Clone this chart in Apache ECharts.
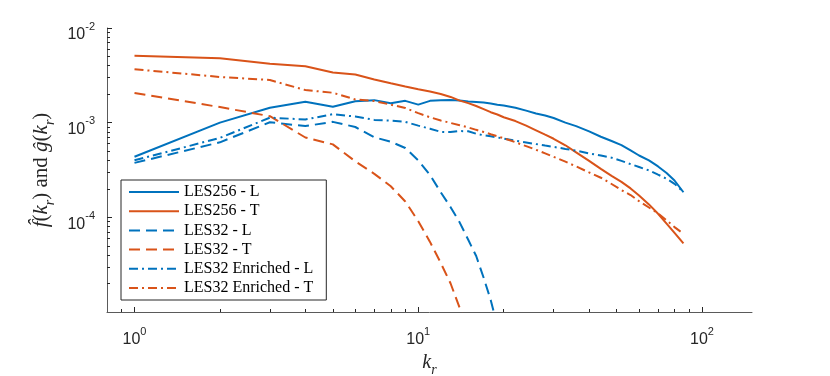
<!DOCTYPE html>
<html>
<head>
<meta charset="utf-8">
<script src="https://cdn.jsdelivr.net/npm/echarts@6/dist/echarts.min.js"></script>
<style>
html, body { margin: 0; padding: 0; background: #fff; }
#main { width: 830px; height: 376px; }
</style>
</head>
<body>
<div id="main"></div>
<script>
// wavenumbers
var kFull = [1,2,3,4,5,6,7,8,9,10,11,12,13,14,15,16,17,18,19,20,22,24,26,28,30,33,36,40,44,48,52,56,60,65,70,75,80,86];
var kLes32L = [1,2,3,4,5,6,7,8,9,10,11,12,13,14,15,16,17,18,19,20];
var kLes32T = [1,2,3,4,5,6,7,8,9,10,11,12,13,14,15];

var les256L = [4.36e-4,1.00e-3,1.44e-3,1.66e-3,1.47e-3,1.68e-3,1.73e-3,1.60e-3,1.70e-3,1.55e-3,1.70e-3,1.73e-3,1.74e-3,1.71e-3,1.67e-3,1.65e-3,1.63e-3,1.59e-3,1.55e-3,1.52e-3,
    1.44e-3,1.34e-3,1.25e-3,1.19e-3,1.12e-3,1.00e-3,9.2e-4,8.1e-4,7.1e-4,6.4e-4,5.8e-4,5.1e-4,4.5e-4,4.0e-4,3.45e-4,2.94e-4,2.45e-4,1.84e-4];
var les256T = [5.08e-3,4.80e-3,4.18e-3,3.95e-3,3.38e-3,3.23e-3,2.86e-3,2.61e-3,2.41e-3,2.25e-3,2.13e-3,2.01e-3,1.87e-3,1.71e-3,1.61e-3,1.50e-3,1.39e-3,1.29e-3,1.22e-3,1.14e-3,
    1.04e-3,9.3e-4,8.3e-4,7.46e-4,6.76e-4,5.77e-4,4.86e-4,3.95e-4,3.25e-4,2.74e-4,2.37e-4,2.02e-4,1.70e-4,1.37e-4,1.09e-4,8.6e-5,6.85e-5,5.3e-5];
var les32L = [3.76e-4,6.2e-4,1.01e-3,9.2e-4,1.02e-3,9.0e-4,7.0e-4,6.3e-4,5.4e-4,4.0e-4,2.8e-4,1.84e-4,1.28e-4,8.8e-5,5.8e-5,3.9e-5,2.3e-5,1.34e-5,7.1e-6,3.8e-6];
var les32T = [2.06e-3,1.46e-3,1.17e-3,6.97e-4,5.9e-4,3.9e-4,2.88e-4,2.13e-4,1.47e-4,9.1e-5,5.5e-5,3.3e-5,2.0e-5,1.1e-5,6.0e-6];
var enrL = [4.0e-4,6.9e-4,1.13e-3,1.08e-3,1.23e-3,1.16e-3,1.07e-3,1.05e-3,1.02e-3,9.3e-4,8.64e-4,8.0e-4,7.95e-4,8.15e-4,8.1e-4,7.64e-4,7.36e-4,7.19e-4,6.98e-4,6.8e-4,
    6.44e-4,6.18e-4,5.94e-4,5.73e-4,5.55e-4,5.28e-4,5.06e-4,4.74e-4,4.49e-4,4.27e-4,3.95e-4,3.65e-4,3.40e-4,3.13e-4,2.82e-4,2.56e-4,2.26e-4,1.85e-4];
var enrT = [3.67e-3,3.04e-3,2.82e-3,2.21e-3,2.07e-3,1.76e-3,1.69e-3,1.55e-3,1.43e-3,1.26e-3,1.14e-3,1.055e-3,9.93e-4,9.4e-4,8.9e-4,8.4e-4,7.97e-4,7.55e-4,7.19e-4,6.85e-4,
    6.21e-4,5.65e-4,5.17e-4,4.74e-4,4.36e-4,3.88e-4,3.45e-4,2.98e-4,2.62e-4,2.25e-4,1.94e-4,1.72e-4,1.48e-4,1.27e-4,1.10e-4,9.31e-5,7.89e-5,6.7e-5];

var names = ['LES256 - L','LES256 - T','LES32 - L','LES32 - T','LES32 Enriched - L','LES32 Enriched - T'];

var xMajor = [1,10,100];
var xMinor = [0.9,2,3,4,5,6,7,8,9,20,30,40,50,60,70,80,90];
var yMajor = [1e-4,1e-3,1e-2];
var yMinor = [2e-5,3e-5,4e-5,5e-5,6e-5,7e-5,8e-5,9e-5,2e-4,3e-4,4e-4,5e-4,6e-4,7e-4,8e-4,9e-4,2e-3,3e-3,4e-3,5e-3,6e-3,7e-3,8e-3,9e-3];

var BLUE = '#0072BD', ORANGE = '#D95319', AX = '#262626';
var DASH = [11, 6], DASHDOT = [9, 4, 2, 4];

function pairs(k, v) {
    var out = [];
    for (var i = 0; i < v.length; i++) out.push([k[i], v[i]]);
    return out;
}

function pow10Label(v) {
    return '{b|10}{s|' + Math.round(Math.log(v) / Math.LN10) + '}';
}

var tickRich = {
    b: {fontSize: 16, fontFamily: 'Liberation Sans', color: AX, lineHeight: 22, verticalAlign: 'bottom'},
    s: {fontSize: 11, fontFamily: 'Liberation Sans', color: AX, lineHeight: 11, verticalAlign: 'top'}
};

function line(name, k, v, color, type) {
    return {
        name: name,
        type: 'line',
        data: pairs(k, v),
        symbol: 'none',
        clip: true,
        lineStyle: {color: color, width: 2, type: type},
        itemStyle: {color: color}
    };
}

var chart = echarts.init(document.getElementById('main'), null, {renderer: 'canvas'});

var option = {
    animation: false,
    backgroundColor: '#fff',
    grid: {left: 107, right: 78, top: 28, bottom: 64, containLabel: false, outerBoundsMode: 'none'},
    legend: {
        data: names,
        orient: 'vertical',
        left: 121,
        top: 180,
        padding: [4, 13, 4, 7],
        itemGap: 3.2,
        itemWidth: 50,
        itemHeight: 14,
        itemStyle: {opacity: 0, borderWidth: 0},
        backgroundColor: '#fff',
        borderColor: AX,
        borderWidth: 1,
        borderRadius: 0,
        textStyle: {fontFamily: 'Liberation Serif', fontSize: 16, color: '#000'}
    },
    xAxis: [{
        type: 'log', logBase: 10, min: 0.8, max: 150,
        position: 'bottom',
        name: '{i|k}{r|r}', nameLocation: 'middle', nameGap: 28,
        nameTextStyle: {
            rich: {
                i: {fontFamily: 'Liberation Serif', fontStyle: 'italic', fontSize: 20, color: AX, lineHeight: 24, verticalAlign: 'top'},
                r: {fontFamily: 'Liberation Serif', fontStyle: 'italic', fontSize: 14, color: AX, lineHeight: 24, verticalAlign: 'bottom'}
            }
        },
        splitLine: {show: false},
        axisLine: {show: true, lineStyle: {color: '#5a5a5a', width: 1}},
        axisTick: {show: true, inside: true, length: 5, customValues: xMajor, lineStyle: {color: AX}},
        axisLabel: {customValues: xMajor, margin: 14, formatter: pow10Label, rich: tickRich}
    }, {
        type: 'log', logBase: 10, min: 0.8, max: 150,
        position: 'bottom',
        splitLine: {show: false},
        axisLine: {show: false},
        axisTick: {show: true, inside: true, length: 3, customValues: xMinor, lineStyle: {color: AX}},
        axisLabel: {show: false}
    }],
    yAxis: [{
        type: 'log', logBase: 10, min: 1e-5, max: 1e-2,
        position: 'left',
        name: '{i|f\u0302}{n|(}{i|k}{r|r}{n|) and }{i|g\u0302}{n|(}{i|k}{r|r}{n|)}',
        nameLocation: 'middle', nameGap: 50, nameRotate: 90, nameMoveOverlap: false,
        nameTextStyle: {
            rich: {
                i: {fontFamily: 'Liberation Serif', fontStyle: 'italic', fontSize: 21, color: AX, lineHeight: 26, verticalAlign: 'top'},
                n: {fontFamily: 'Liberation Serif', fontSize: 21, color: AX, lineHeight: 26, verticalAlign: 'top'},
                r: {fontFamily: 'Liberation Serif', fontStyle: 'italic', fontSize: 14, color: AX, lineHeight: 26, verticalAlign: 'bottom'}
            }
        },
        splitLine: {show: false},
        axisLine: {show: true, lineStyle: {color: '#5a5a5a', width: 1}},
        axisTick: {show: true, inside: true, length: 5, customValues: yMajor, lineStyle: {color: AX}},
        axisLabel: {customValues: yMajor, margin: 12, padding: [8, 0, 0, 0], formatter: pow10Label, rich: tickRich}
    }, {
        type: 'log', logBase: 10, min: 1e-5, max: 1e-2,
        position: 'left',
        splitLine: {show: false},
        axisLine: {show: false},
        axisTick: {show: true, inside: true, length: 3, customValues: yMinor, lineStyle: {color: AX}},
        axisLabel: {show: false}
    }],
    series: [
        line(names[0], kFull, les256L, BLUE, 'solid'),
        line(names[1], kFull, les256T, ORANGE, 'solid'),
        line(names[2], kLes32L, les32L, BLUE, DASH),
        line(names[3], kLes32T, les32T, ORANGE, DASH),
        line(names[4], kFull, enrL, BLUE, DASHDOT),
        line(names[5], kFull, enrT, ORANGE, DASHDOT)
    ]
};

chart.setOption(option);
</script>
</body>
</html>
